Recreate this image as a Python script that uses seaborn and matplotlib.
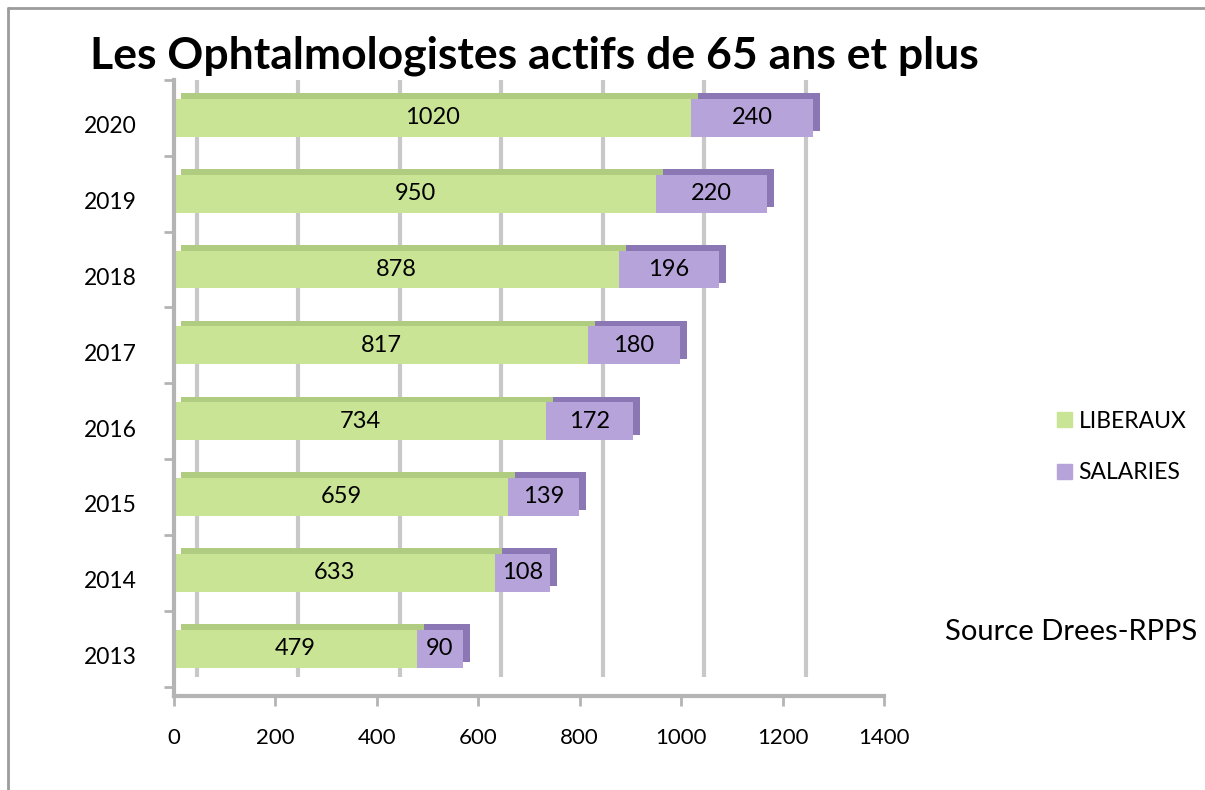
import matplotlib
matplotlib.use("Agg")
import numpy as np
import pandas as pd
import matplotlib.pyplot as plt
import seaborn as sns
from matplotlib import patheffects as pe
from matplotlib.transforms import ScaledTranslation
from matplotlib.patches import Patch
from matplotlib.lines import Line2D

# data
years = ['2020', '2019', '2018', '2017', '2016', '2015', '2014', '2013']
liberaux = [1020, 950, 878, 817, 734, 659, 633, 479]
salaries = [240, 220, 196, 180, 172, 139, 108, 90]
x_ticks = [0, 200, 400, 600, 800, 1000, 1200, 1400]

df = pd.DataFrame({'annee': years, 'LIBERAUX': liberaux, 'SALARIES': salaries})

green = '#c9e495'
green_dark = '#afcc80'
purple = '#b6a3d9'
purple_dark = '#8c77b5'
axis_gray = '#b4b4b4'
grid_gray = '#c8c8c8'

sns.set_theme(style='white')
plt.rcParams['font.family'] = ['Lato', 'DejaVu Sans']
plt.rcParams['text.color'] = 'black'
plt.rcParams['xtick.labelcolor'] = 'black'
plt.rcParams['ytick.labelcolor'] = 'black'

fig = plt.figure(figsize=(12.05, 7.90), dpi=100)
ax = fig.add_axes([174 / 1205, 94 / 790, 710 / 1205, 616 / 790])

# back-wall gridlines (shifted up/right like the 3D original)
shift = ScaledTranslation(23 / 100, 19 / 100, fig.dpi_scale_trans)
ax.vlines(x_ticks, 0, 1, transform=ax.get_xaxis_transform() + shift,
          colors=grid_gray, linewidth=3, zorder=0)

# stacked bars
sns.barplot(data=df, y='annee', x='LIBERAUX', orient='h', color=green,
            saturation=1, width=0.5, ax=ax, zorder=2, linewidth=0, edgecolor='none')
pos = np.arange(len(years))
ax.barh(pos, df['SALARIES'], left=df['LIBERAUX'], height=0.5, color=purple,
        linewidth=0, edgecolor='none', zorder=2)

for bar in ax.containers[0]:
    bar.set_path_effects([pe.SimplePatchShadow(offset=(5, 4), shadow_rgbFace=green_dark, alpha=1),
                          pe.Normal()])
for bar in ax.containers[1]:
    bar.set_path_effects([pe.SimplePatchShadow(offset=(5, 4), shadow_rgbFace=purple_dark, alpha=1),
                          pe.Normal()])

ax.bar_label(ax.containers[0], labels=liberaux, label_type='center', fontsize=17)
ax.bar_label(ax.containers[1], labels=salaries, label_type='center', fontsize=17)

# axes
ax.set_xlim(0, 1400)
ax.set_xticks(x_ticks)
ax.set_ylim(7.625, -0.39)
ax.set_yticks(pos)
ax.set_yticks(np.arange(-0.5, len(years)), minor=True)
ax.set_xlabel('')
ax.set_ylabel('')
ax.tick_params(axis='x', length=7, width=2, color=axis_gray, pad=16, labelsize=16, bottom=True)
ax.tick_params(axis='y', which='major', length=0, pad=27, labelsize=16.5)
ax.tick_params(axis='y', which='minor', length=7, width=2, color=axis_gray, left=True)
for lab in ax.get_yticklabels():
    lab.set_transform(lab.get_transform() + ScaledTranslation(0, -7 / 100, fig.dpi_scale_trans))

for side in ['top', 'right']:
    ax.spines[side].set_visible(False)
for side in ['left', 'bottom']:
    ax.spines[side].set_color(axis_gray)
    ax.spines[side].set_linewidth(3)

# legend
handles = [Patch(color=green, label='LIBERAUX'), Patch(color=purple, label='SALARIES')]
ax.legend(handles=handles, loc='center left', bbox_to_anchor=(1036 / 1205, 1 - 447 / 790),
          bbox_transform=fig.transFigure, frameon=False, fontsize=16.5,
          handlelength=0.65, handleheight=0.65, handletextpad=0.3, labelspacing=1.35)

# title and source
fig.text(90 / 1205, 1 - 68 / 790, 'Les Ophtalmologistes actifs de 65 ans et plus',
         fontsize=32, fontweight='bold', va='baseline', ha='left')
fig.text(945 / 1205, 1 - 640 / 790, 'Source Drees-RPPS', fontsize=21, va='baseline', ha='left')

# frame of the original picture
fig.add_artist(Line2D([8 / 1205, 1], [1 - 8 / 790] * 2, transform=fig.transFigure,
                      color='#9c9c9c', linewidth=2))
fig.add_artist(Line2D([8 / 1205] * 2, [0, 1 - 8 / 790], transform=fig.transFigure,
                      color='#9c9c9c', linewidth=2))

fig.savefig('out.png', dpi=100)
